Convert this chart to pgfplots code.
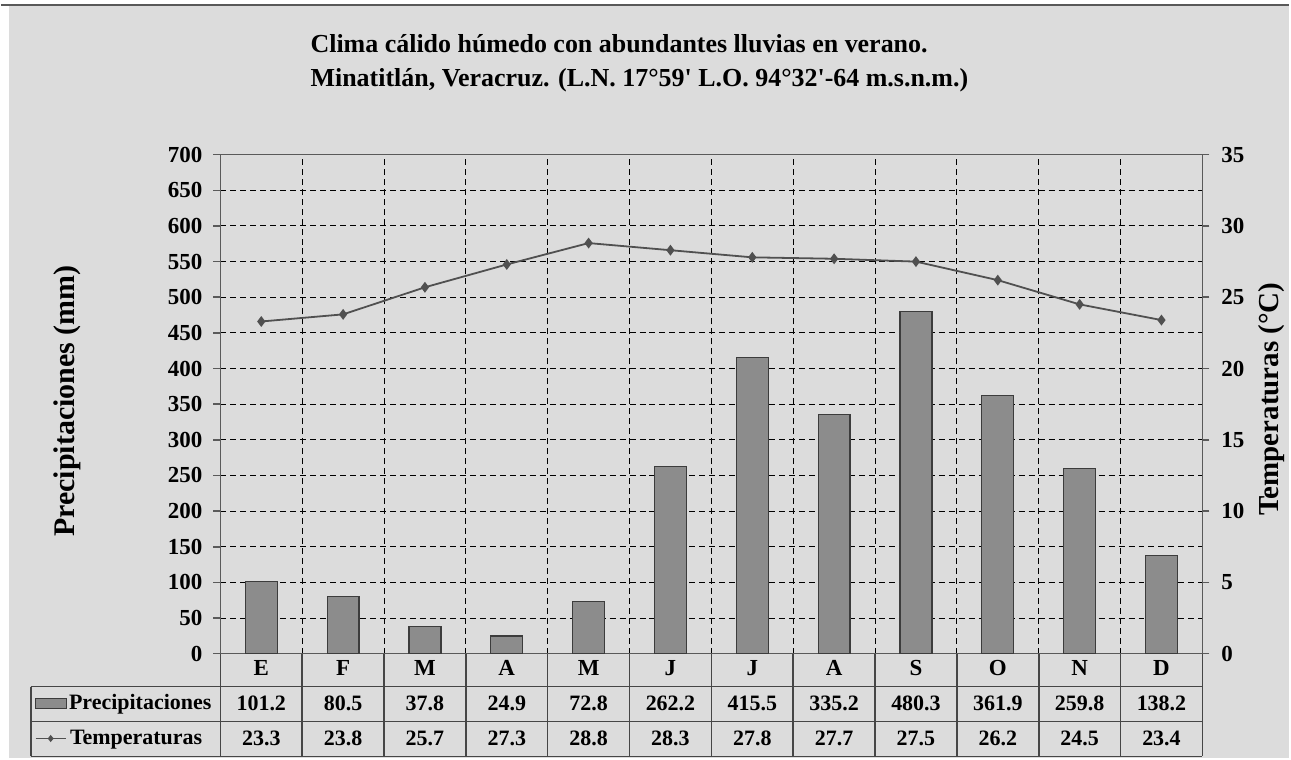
\documentclass[border=0pt]{standalone}
\usepackage{pgfplots}
\pgfplotsset{compat=1.18}
\usepackage{fontspec}
\setmainfont{Liberation Serif}
\definecolor{bg}{RGB}{220,220,220}
\definecolor{barfill}{RGB}{140,140,140}
\definecolor{bardraw}{RGB}{60,60,60}
\definecolor{linec}{RGB}{80,80,80}
\definecolor{axc}{RGB}{90,90,90}
\definecolor{tablec}{RGB}{70,70,70}
\begin{document}
\begin{tikzpicture}
\fill[white] (0,0) rectangle (645.5pt,380.5pt);
\fill[bg] (4pt,0.5pt) rectangle (645.5pt,378pt);
\draw[gray!70!black, line width=0.8pt] (0,378pt) -- (645.5pt,378pt);

\begin{axis}[
  at={(110pt,53pt)}, anchor=south west,
  width=492pt, height=250pt, scale only axis,
  xmin=-0.5, xmax=11.5, ymin=0, ymax=700,
  ytick={0,50,...,700},
  xtick={0.5,1.5,...,10.5}, xticklabels={},
  xtick style={draw=none},
  ytick pos=left, tick align=outside, major tick length=3.5pt,
  ymajorgrids, xmajorgrids,
  grid style={densely dashed, black, line width=0.5pt},
  axis line style={axc, line width=0.8pt},
  ytick style={axc, line width=0.8pt},
  tick label style={font=\fontsize{11.5}{12}\selectfont\bfseries},
  yticklabel style={xshift=-2pt},
  /pgf/number format/assume math mode=true,
  clip=false,
]
\addplot[ybar, bar width=16pt, fill=barfill, draw=bardraw, line width=0.6pt] coordinates {
(0,101.2) (1,80.5) (2,37.8) (3,24.9) (4,72.8) (5,262.2)
(6,415.5) (7,335.2) (8,480.3) (9,361.9) (10,259.8) (11,138.2)};
\end{axis}

\begin{axis}[
  at={(110pt,53pt)}, anchor=south west,
  width=492pt, height=250pt, scale only axis,
  xmin=-0.5, xmax=11.5, ymin=0, ymax=35,
  ytick={0,5,...,35},
  axis x line=none, axis y line*=right,
  tick align=outside, major tick length=3.5pt,
  axis line style={axc, line width=0.8pt},
  ytick style={axc, line width=0.8pt},
  tick label style={font=\fontsize{11.5}{12}\selectfont\bfseries},
  yticklabel style={xshift=2.5pt},
  /pgf/number format/assume math mode=true,
  clip=false,
]
\addplot[linec, line width=0.9pt, mark=diamond*, mark size=2pt, mark options={fill=linec, solid}] coordinates {
(0,23.3) (1,23.8) (2,25.7) (3,27.3) (4,28.8) (5,28.3)
(6,27.8) (7,27.7) (8,27.5) (9,26.2) (10,24.5) (11,23.4)};
\end{axis}

% data table
\draw[tablec, line width=0.8pt] (15pt,36.5pt) -- (602pt,36.5pt);
\draw[tablec, line width=0.8pt] (15pt,19pt) -- (602pt,19pt);
\draw[tablec, line width=0.8pt] (15pt,1.5pt) -- (602pt,1.5pt);
\draw[tablec, line width=0.8pt] (15pt,36.5pt) -- (15pt,1.5pt);
\foreach \k in {0,...,12} {
  \draw[tablec, line width=0.8pt] ({110pt+41pt*\k},53pt) -- ({110pt+41pt*\k},1.5pt);
}
\foreach \c [count=\i from 0] in {E,F,M,A,M,J,J,A,S,O,N,D} {
  \node[font=\fontsize{11.5}{12}\selectfont\bfseries, text height=1.6ex, text depth=0pt] at ({130.5pt+41pt*\i},45.5pt) {\c};
}
\foreach \v [count=\i from 0] in {101.2,80.5,37.8,24.9,72.8,262.2,415.5,335.2,480.3,361.9,259.8,138.2} {
  \node[font=\fontsize{11}{12}\selectfont\bfseries, text height=1.6ex, text depth=0pt] at ({130.5pt+41pt*\i},28pt) {\v};
}
\foreach \v [count=\i from 0] in {23.3,23.8,25.7,27.3,28.8,28.3,27.8,27.7,27.5,26.2,24.5,23.4} {
  \node[font=\fontsize{11}{12}\selectfont\bfseries, text height=1.6ex, text depth=0pt] at ({130.5pt+41pt*\i},10.5pt) {\v};
}
% legend keys
\draw[bardraw, fill=barfill, line width=0.6pt] (17.5pt,25.5pt) rectangle (33pt,30.5pt);
\node[font=\fontsize{11}{12}\selectfont\bfseries, anchor=west, inner sep=0pt, text height=1.6ex, text depth=0.5ex] at (34pt,27.5pt) {Precipitaciones};
\draw[linec, line width=0.9pt] (17.5pt,10.5pt) -- (32.5pt,10.5pt);
\fill[linec] (25pt,12.3pt) -- (26.5pt,10.5pt) -- (25pt,8.7pt) -- (23.5pt,10.5pt) -- cycle;
\node[font=\fontsize{11}{12}\selectfont\bfseries, anchor=west, inner sep=0pt, text height=1.6ex, text depth=0.5ex] at (34.5pt,10pt) {Temperaturas};

% title
\node[font=\fontsize{13}{14}\selectfont\bfseries, anchor=base west, inner sep=0pt] at (155pt,354pt) {Clima cálido húmedo con abundantes lluvias en verano.};
\node[font=\fontsize{13}{14}\selectfont\bfseries, anchor=base west, inner sep=0pt] at (155pt,337pt) {Minatitlán, Veracruz. (L.N. 17°59\textquotesingle{} L.O. 94°32\textquotesingle-64 m.s.n.m.)};

% axis labels
\node[font=\fontsize{15}{16}\selectfont\bfseries, rotate=90] at (33.5pt,179.5pt) {Precipitaciones (mm)};
\node[font=\fontsize{14.5}{16}\selectfont\bfseries, rotate=90] at (636.5pt,180.5pt) {Temperaturas (°C)};
\end{tikzpicture}
\end{document}
